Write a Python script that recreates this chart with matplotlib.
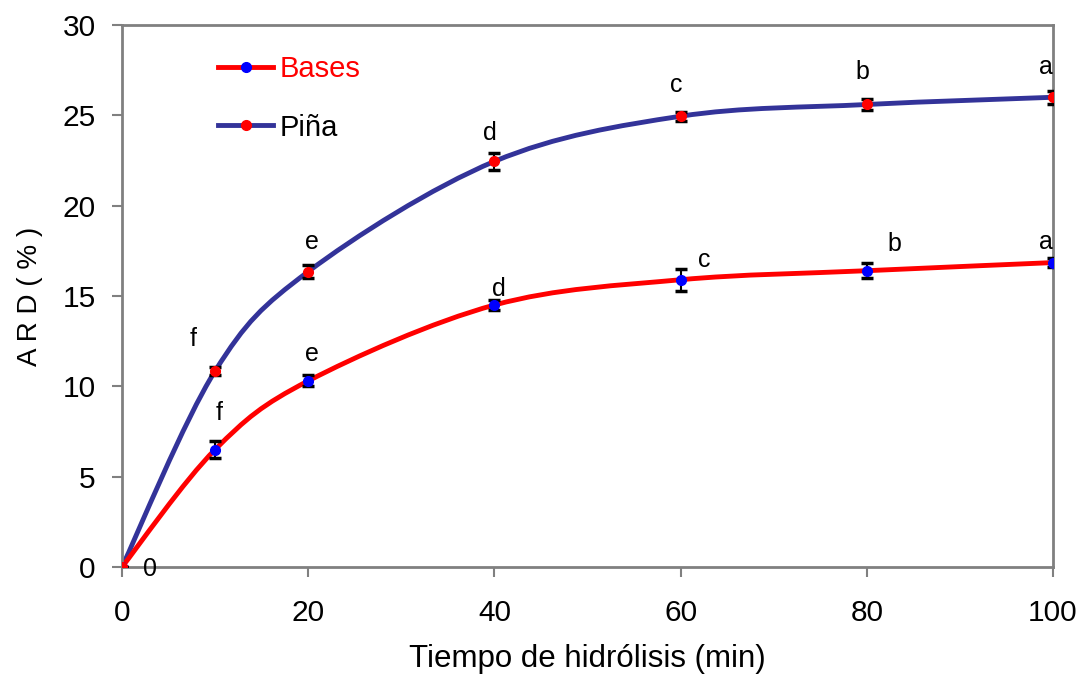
import matplotlib.pyplot as plt
from matplotlib.path import Path
from matplotlib.patches import PathPatch
from matplotlib.lines import Line2D

plt.rcParams["font.family"] = ["Liberation Sans", "DejaVu Sans"]

tiempo = [0, 10, 20, 40, 60, 80, 100]

bases = [0, 6.5, 10.3, 14.5, 15.9, 16.4, 16.85]
bases_err = [0, 0.45, 0.3, 0.3, 0.6, 0.4, 0.25]
bases_letras = ["0", "f", "e", "d", "c", "b", "a"]
bases_letra_pos = [(3.0, -0.1), (10.4, 8.5), (20.4, 11.8), (40.5, 15.4),
                   (62.5, 17.0), (83.0, 17.9), (99.2, 18.0)]

pina = [0, 10.85, 16.35, 22.45, 24.95, 25.6, 26.0]
pina_err = [0, 0.2, 0.35, 0.45, 0.25, 0.3, 0.35]
pina_letras = ["f", "e", "d", "c", "b", "a"]
pina_letra_pos = [(7.6, 12.6), (20.4, 18.0), (39.5, 24.0), (59.5, 26.7),
                  (79.5, 27.4), (99.2, 27.7)]

ejes_gris = "#808080"
azul_pina = "#333399"


def curva_suave(xs, ys):
    # Excel-style smoothed line: cubic Bezier through every point
    pts = list(zip(xs, ys))
    verts = [pts[0]]
    codes = [Path.MOVETO]
    n = len(pts)
    for i in range(n - 1):
        p0 = pts[i - 1] if i > 0 else pts[i]
        p1 = pts[i]
        p2 = pts[i + 1]
        p3 = pts[i + 2] if i + 2 < n else pts[i + 1]
        c1 = (p1[0] + (p2[0] - p0[0]) / 6, p1[1] + (p2[1] - p0[1]) / 6)
        c2 = (p2[0] - (p3[0] - p1[0]) / 6, p2[1] - (p3[1] - p1[1]) / 6)
        verts += [c1, c2, p2]
        codes += [Path.CURVE4] * 3
    return Path(verts, codes)


fig = plt.figure(figsize=(10.83, 6.77), dpi=100)
ax = fig.add_axes([122 / 1083, 1 - 567 / 677, 931 / 1083, 542 / 677])

ax.add_patch(PathPatch(curva_suave(tiempo, pina), fill=False,
                       edgecolor=azul_pina, lw=3.5, zorder=2))
ax.add_patch(PathPatch(curva_suave(tiempo, bases), fill=False,
                       edgecolor="red", lw=3.5, zorder=2))

ax.errorbar(tiempo, pina, yerr=pina_err, fmt="none", ecolor="black",
            elinewidth=1.5, capsize=4, capthick=2.5, zorder=3)
ax.errorbar(tiempo, bases, yerr=bases_err, fmt="none", ecolor="black",
            elinewidth=1.5, capsize=4, capthick=2.5, zorder=3)

ax.plot(tiempo, bases, "o", color="blue", ms=7, zorder=4)
ax.plot(tiempo, pina, "o", color="red", ms=7, zorder=4)

for letra, (x, y) in zip(pina_letras, pina_letra_pos):
    ax.text(x, y, letra, fontsize=18, ha="center", va="center")
for letra, (x, y) in zip(bases_letras, bases_letra_pos):
    ax.text(x, y, letra, fontsize=18, ha="center", va="center")

ax.set_xlim(0, 100)
ax.set_ylim(0, 30)
ax.set_xticks([0, 20, 40, 60, 80, 100])
ax.set_yticks(range(0, 31, 5))
ax.tick_params(direction="out", length=7, width=1.5, color=ejes_gris,
               labelsize=21.5)
ax.tick_params(axis="x", pad=16)
ax.tick_params(axis="y", pad=12)
for lado in ax.spines.values():
    lado.set_color(ejes_gris)
    lado.set_linewidth(2)

ax.set_xlabel("Tiempo de hidrólisis (min)", fontsize=22.5, labelpad=12)
ax.set_ylabel("A R D ( % )", fontsize=20, labelpad=14)

h_bases = Line2D([], [], color="red", lw=3.5, marker="o", mfc="blue",
                 mec="blue", ms=7)
h_pina = Line2D([], [], color=azul_pina, lw=3.5, marker="o", mfc="red",
                mec="red", ms=7)
leg = ax.legend([h_bases, h_pina], ["Bases", "Piña"], loc="upper left",
                bbox_to_anchor=(0.075, 0.993), frameon=False, fontsize=21,
                handlelength=1.9, handletextpad=0.2, labelspacing=1.05,
                numpoints=1)
leg.get_texts()[0].set_color("red")

fig.savefig("out.png", dpi=100)
